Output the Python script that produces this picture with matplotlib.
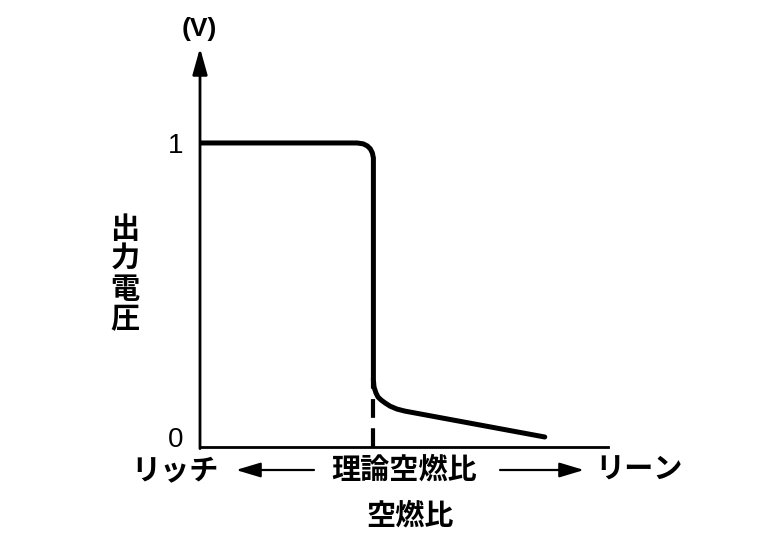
import matplotlib
matplotlib.use("Agg")
import matplotlib.pyplot as plt
from matplotlib.patches import FancyArrowPatch

plt.rcParams['font.family'] = ['Noto Sans CJK JP', 'DejaVu Sans']

# excess air ratio (lambda) and sensor output voltage
lam = [0.830, 0.984, 0.990, 0.994, 0.997, 0.999, 1.000, 1.000,
       1.0006, 1.0025, 1.0045, 1.0075, 1.0114, 1.0163, 1.0231, 1.031,
       1.168]
volt = [1.000, 1.000, 0.997, 0.990, 0.980, 0.966, 0.949, 0.194,
        0.170, 0.150, 0.136, 0.126, 0.116, 0.105, 0.095, 0.088,
        0.000]

stoich = 1.0
y_ticks = [0, 1]
y_ticklabels = ['0', '1']
x_range = (0.830, 1.230)
y_range = (-0.034, 1.323)

W, H = 768, 544
fig = plt.figure(figsize=(W / 100, H / 100), dpi=100)
ax = fig.add_axes([200 / W, 1 - 447 / H, 408 / W, (447 - 48) / H])

ax.plot(lam, volt, color='black', lw=3.6, solid_joinstyle='round',
        solid_capstyle='round')
ax.plot([stoich, stoich], [y_range[0], 0.2], color='black', lw=3,
        dashes=(4.5, 2.5))

ax.set_xlim(*x_range)
ax.set_ylim(*y_range)

for s in ['top', 'right', 'left']:
    ax.spines[s].set_visible(False)
ax.spines['bottom'].set_linewidth(2)
ax.set_xticks([])
ax.set_yticks(y_ticks)
ax.set_yticklabels(y_ticklabels, fontsize=20, family='Liberation Sans')
ax.tick_params(axis='y', length=0, pad=12)

# y axis with arrow head
ax.annotate('', xy=(0, 1), xytext=(0, -0.004), xycoords='axes fraction',
            arrowprops=dict(arrowstyle='-|>,head_length=1.6,head_width=0.45',
                            lw=2, color='black', shrinkA=0, shrinkB=0,
                            mutation_scale=10))


def fx(px):
    return px / W


def fy(py):
    return 1 - py / H


txt = dict(fontsize=21, fontweight='bold', ha='center', va='center')
fig.text(fx(199), fy(29), '(V)', family='Liberation Sans',
         fontsize=19, fontweight='bold', ha='center', va='center')
fig.text(fx(125), fy(274), '出\n力\n電\n圧', linespacing=1.0, **txt)
fig.text(fx(175), fy(470), 'リッチ', **txt)
fig.text(fx(404), fy(470), '理論空燃比', **txt)
fig.text(fx(639), fy(470), 'リーン', **txt)
fig.text(fx(410), fy(516), '空燃比', **txt)

for start, end in [(314, 236), (500, 584)]:
    fig.add_artist(FancyArrowPatch(
        (fx(start), fy(470)), (fx(end), fy(470)),
        transform=fig.transFigure,
        arrowstyle='-|>,head_length=1.5,head_width=0.45',
        lw=1.6, color='black', shrinkA=0, shrinkB=0, mutation_scale=10))

fig.savefig('out.png', dpi=100)
